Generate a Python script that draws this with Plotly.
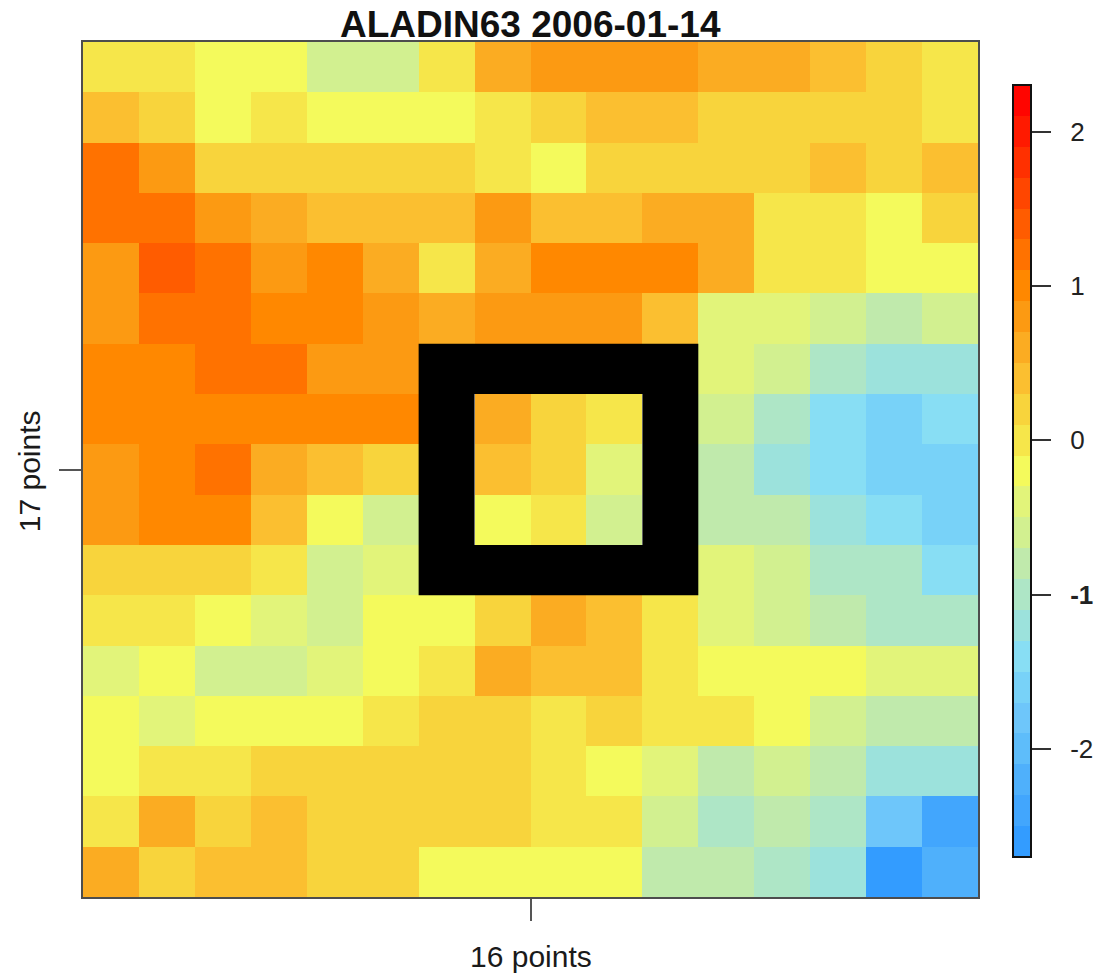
import plotly.graph_objects as go

# Daily anomaly field on a 16 x 17 grid (rows listed top to bottom).
# None marks cells hidden under the frame of the central box.
n_cols = 16
n_rows = 17

row_00 = [0.0, 0.0, -0.2, -0.2, -0.6, -0.6, 0.0, 0.6, 0.8, 0.8, 0.8, 0.6, 0.6, 0.4, 0.2, 0.0]
row_01 = [0.4, 0.2, -0.2, 0.0, -0.2, -0.2, -0.2, 0.0, 0.2, 0.4, 0.4, 0.2, 0.2, 0.2, 0.2, 0.0]
row_02 = [1.2, 0.8, 0.2, 0.2, 0.2, 0.2, 0.2, 0.0, -0.2, 0.2, 0.2, 0.2, 0.2, 0.4, 0.2, 0.4]
row_03 = [1.2, 1.2, 0.8, 0.6, 0.4, 0.4, 0.4, 0.8, 0.4, 0.4, 0.6, 0.6, 0.0, 0.0, -0.2, 0.2]
row_04 = [0.8, 1.4, 1.2, 0.8, 1.0, 0.6, 0.0, 0.6, 1.0, 1.0, 1.0, 0.6, 0.0, 0.0, -0.2, -0.2]
row_05 = [0.8, 1.2, 1.2, 1.0, 1.0, 0.8, 0.6, 0.8, 0.8, 0.8, 0.4, -0.4, -0.4, -0.6, -0.8, -0.6]
row_06 = [1.0, 1.0, 1.2, 1.2, 0.8, 0.8, None, None, None, None, None, -0.4, -0.6, -1.0, -1.2, -1.2]
row_07 = [1.0, 1.0, 1.0, 1.0, 1.0, 1.0, None, 0.6, 0.2, 0.0, None, -0.6, -1.0, -1.4, -1.6, -1.4]
row_08 = [0.8, 1.0, 1.2, 0.6, 0.4, 0.2, None, 0.4, 0.2, -0.4, None, -0.8, -1.2, -1.4, -1.6, -1.6]
row_09 = [0.8, 1.0, 1.0, 0.4, -0.2, -0.6, None, -0.2, 0.0, -0.6, None, -0.8, -0.8, -1.2, -1.4, -1.6]
row_10 = [0.2, 0.2, 0.2, 0.0, -0.6, -0.4, None, None, None, None, None, -0.4, -0.6, -1.0, -1.0, -1.4]
row_11 = [0.0, 0.0, -0.2, -0.4, -0.6, -0.2, -0.2, 0.2, 0.6, 0.4, 0.0, -0.4, -0.6, -0.8, -1.0, -1.0]
row_12 = [-0.4, -0.2, -0.6, -0.6, -0.4, -0.2, 0.0, 0.6, 0.4, 0.4, 0.0, -0.2, -0.2, -0.2, -0.4, -0.4]
row_13 = [-0.2, -0.4, -0.2, -0.2, -0.2, 0.0, 0.2, 0.2, 0.0, 0.2, 0.0, 0.0, -0.2, -0.6, -0.8, -0.8]
row_14 = [-0.2, 0.0, 0.0, 0.2, 0.2, 0.2, 0.2, 0.2, 0.0, -0.2, -0.4, -0.8, -0.6, -0.8, -1.2, -1.2]
row_15 = [0.0, 0.6, 0.2, 0.4, 0.2, 0.2, 0.2, 0.2, 0.0, 0.0, -0.6, -1.0, -0.8, -1.0, -1.8, -2.4]
row_16 = [0.6, 0.2, 0.4, 0.4, 0.2, 0.2, -0.2, -0.2, -0.2, -0.2, -0.8, -0.8, -1.0, -1.2, -2.6, -2.2]

field = [row_00, row_01, row_02, row_03, row_04, row_05, row_06, row_07, row_08,
         row_09, row_10, row_11, row_12, row_13, row_14, row_15, row_16]

# Central 3 x 3 box (inclusive row / column indices), outlined by a one-cell frame
box_rows = (7, 9)
box_cols = (7, 9)

# Colour scale: 25 bands of 0.2 between z_min and z_max
z_min, z_max = -2.7, 2.3
band_colors = [
    "#339CFF", "#42A6FD", "#4FB0FB", "#5EBDFA", "#6EC6FA", "#78D2F8", "#88DEF4",
    "#9CE2DC", "#AEE6C6", "#C0EAAC", "#D2F090", "#E2F47A", "#F4FA5C",
    "#F6E64A", "#F8D43C", "#FBBF30", "#FBAC22", "#FC9A12",
    "#FF8800", "#FF7200", "#FF5C00", "#FF4600", "#FF3000", "#FF1A00", "#FF0500",
]
cbar_ticks = [-2, -1, 0, 1, 2]
cbar_ticktext = ["-2", "<b>-1</b>", "0", "1", "2"]

title_text = "ALADIN63 2006-01-14"
x_label = "16 points"
y_label = "17 points"

n_bands = len(band_colors)
colorscale = []
for i, c in enumerate(band_colors):
    colorscale.append([i / n_bands, c])
    colorscale.append([(i + 1) / n_bands, c])

FONT = "Liberation Sans, Arial, sans-serif"
GAP = "\u00a0\u00a0"  # spacing between colour-bar ticks and their labels

fig = go.Figure()
fig.add_trace(go.Heatmap(
    z=field,
    x=list(range(n_cols)),
    y=list(range(n_rows)),
    zmin=z_min, zmax=z_max,
    colorscale=colorscale,
    hoverongaps=False,
    colorbar=dict(
        x=1.039, xanchor="left", xref="paper", xpad=0,
        y=0.498, yanchor="middle", ypad=0,
        len=0.903, lenmode="fraction",
        thickness=18,
        outlinewidth=2, outlinecolor="#111111",
        tickmode="array", tickvals=cbar_ticks,
        ticktext=[GAP + t for t in cbar_ticktext],
        ticks="outside", ticklen=19, tickwidth=2, tickcolor="#333333",
        tickfont=dict(family=FONT, size=26, color="#222222"),
        ticklabelposition="outside",
    ),
))

# Black one-cell frame around the central box
r0, r1 = box_rows
c0, c1 = box_cols
frame_parts = [
    (c0 - 1.5, c1 + 1.5, r0 - 1.5, r0 - 0.5),   # top
    (c0 - 1.5, c1 + 1.5, r1 + 0.5, r1 + 1.5),   # bottom
    (c0 - 1.5, c0 - 0.5, r0 - 0.5, r1 + 0.5),   # left
    (c1 + 0.5, c1 + 1.5, r0 - 0.5, r1 + 0.5),   # right
]
for xa, xb, ya, yb in frame_parts:
    fig.add_shape(type="rect", xref="x", yref="y", x0=xa, x1=xb, y0=ya, y1=yb,
                  fillcolor="black", line=dict(width=0), layer="above")

axis_common = dict(
    showgrid=False, zeroline=False,
    showline=True, mirror=True, linecolor="#4d4d4d", linewidth=2,
    ticks="outside", ticklen=22, tickwidth=2, tickcolor="#555555",
    showticklabels=False,
)
fig.update_xaxes(range=[-0.5, n_cols - 0.5], tickvals=[(n_cols - 1) / 2], **axis_common)
fig.update_yaxes(range=[n_rows - 0.5, -0.5], tickvals=[(n_rows - 1) / 2], **axis_common)

fig.add_annotation(text=f"<b>{title_text}</b>", xref="paper", yref="paper",
                   x=0.5, y=1.021, xanchor="center", yanchor="middle", showarrow=False,
                   font=dict(family=FONT, size=37, color="#111111"))
fig.add_annotation(text=x_label, xref="paper", yref="paper",
                   x=0.5, y=-0.070, xanchor="center", yanchor="middle", showarrow=False,
                   font=dict(family=FONT, size=30, color="#1a1a1a"))
fig.add_annotation(text=y_label, xref="paper", yref="paper", textangle=-90,
                   x=-0.0603, y=0.498, xanchor="center", yanchor="middle", showarrow=False,
                   font=dict(family=FONT, size=30, color="#1a1a1a"))

fig.update_layout(
    width=1102, height=978,
    margin=dict(l=83, r=124, t=42, b=81, autoexpand=False),
    paper_bgcolor="white", plot_bgcolor="white",
    showlegend=False,
)

fig.write_html("out.html")
